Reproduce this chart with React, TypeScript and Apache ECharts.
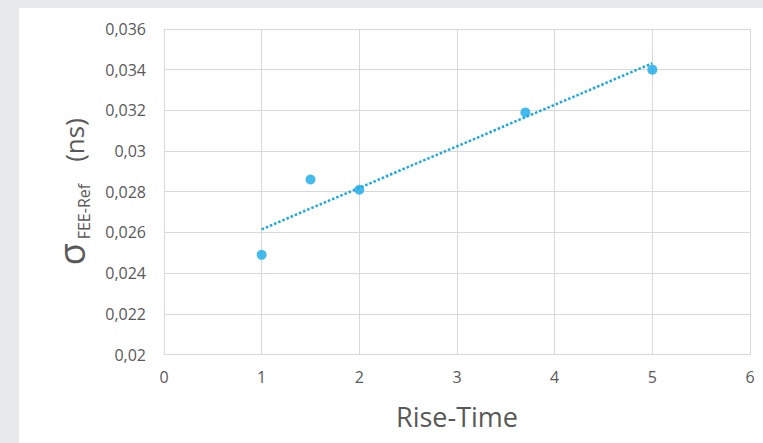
import React, { useEffect, useRef } from "react";
import * as echarts from "echarts";

// Measured sigma of the FEE-Ref timing versus rise time
const riseTimes = [1, 1.5, 2, 3.7, 5];
const sigmaValues = [0.0249, 0.0286, 0.0281, 0.0319, 0.034];

const xTicks = { min: 0, max: 6, interval: 1 };
const yTicks = { min: 0.02, max: 0.036, interval: 0.002 };

const POINT_COLOR = "#17a9e7";
const TEXT_COLOR = "#595959";
const GRID_COLOR = "#d9d9d9";
const FONT = "'Open Sans', 'Noto Sans', sans-serif";

// Least-squares linear fit, drawn across the range of the measurements
function linearFit(xs: number[], ys: number[]) {
  const n = xs.length;
  const mx = xs.reduce((a, b) => a + b, 0) / n;
  const my = ys.reduce((a, b) => a + b, 0) / n;
  let sxy = 0;
  let sxx = 0;
  for (let i = 0; i < n; i++) {
    sxy += (xs[i] - mx) * (ys[i] - my);
    sxx += (xs[i] - mx) * (xs[i] - mx);
  }
  const slope = sxy / sxx;
  const intercept = my - slope * mx;
  return (x: number) => intercept + slope * x;
}

const fit = linearFit(riseTimes, sigmaValues);
const xFirst = Math.min(...riseTimes);
const xLast = Math.max(...riseTimes);
const trendPoints = [
  [xFirst, fit(xFirst)],
  [xLast, fit(xLast)],
];

const decimalComma = (v: number) =>
  String(parseFloat(v.toFixed(4))).replace(".", ",");

export default function App() {
  const ref = useRef<HTMLDivElement>(null);

  useEffect(() => {
    if (!ref.current) return;
    const chart = echarts.init(ref.current, undefined, { renderer: "svg" });
    chart.setOption({
      animation: false,
      backgroundColor: "#ffffff",
      grid: { left: 145, top: 21, right: 13, bottom: 88.5 },
      xAxis: {
        type: "value",
        min: xTicks.min,
        max: xTicks.max,
        interval: xTicks.interval,
        name: "Rise-Time",
        nameLocation: "middle",
        nameGap: 48,
        nameTextStyle: { fontFamily: FONT, fontSize: 27, color: TEXT_COLOR },
        axisLine: { show: true, lineStyle: { color: GRID_COLOR, width: 1 } },
        axisTick: { show: false },
        axisLabel: {
          fontFamily: FONT,
          fontSize: 16,
          color: TEXT_COLOR,
          margin: 14,
        },
        splitLine: { show: true, lineStyle: { color: GRID_COLOR, width: 1 } },
      },
      yAxis: {
        type: "value",
        min: yTicks.min,
        max: yTicks.max,
        interval: yTicks.interval,
        // sigma with a lowered "FEE-Ref" subscript, then the unit
        name: "{s|σ}{sub|FEE-Ref}{n|(ns)}",
        nameLocation: "middle",
        nameRotate: 90,
        nameGap: 61,
        nameTextStyle: {
          fontFamily: FONT,
          color: TEXT_COLOR,
          rich: {
            s: {
              fontFamily: FONT,
              fontSize: 36,
              lineHeight: 50,
              verticalAlign: "top",
              color: TEXT_COLOR,
            },
            sub: {
              fontFamily: FONT,
              fontSize: 16,
              lineHeight: 50,
              verticalAlign: "top",
              color: TEXT_COLOR,
              padding: [23, 0, 0, 4],
            },
            n: {
              fontFamily: FONT,
              fontSize: 26,
              lineHeight: 50,
              verticalAlign: "top",
              color: TEXT_COLOR,
              padding: [8, 0, 0, 22],
            },
          },
        },
        axisLine: { show: true, lineStyle: { color: GRID_COLOR, width: 1 } },
        axisTick: { show: false },
        axisLabel: {
          fontFamily: FONT,
          fontSize: 16,
          color: TEXT_COLOR,
          margin: 18,
          formatter: (v: number) => decimalComma(v),
        },
        splitLine: { show: true, lineStyle: { color: GRID_COLOR, width: 1 } },
      },
      series: [
        {
          name: "Trend",
          type: "line",
          data: trendPoints,
          showSymbol: false,
          symbol: "none",
          lineStyle: {
            color: POINT_COLOR,
            width: 2.5,
            type: [2.5, 2],
            cap: "butt",
          },
          z: 2,
        },
        {
          name: "Sigma",
          type: "scatter",
          data: riseTimes.map((x, i) => [x, sigmaValues[i]]),
          symbol: "circle",
          symbolSize: 10,
          itemStyle: { color: POINT_COLOR },
          z: 3,
        },
      ],
    });
    return () => chart.dispose();
  }, []);

  return (
    <div
      style={{
        position: "fixed",
        left: 0,
        top: 0,
        width: 763,
        height: 443,
        background: "#e8e9eb",
        overflow: "hidden",
      }}
    >
      <div
        ref={ref}
        style={{
          position: "absolute",
          left: 19,
          top: 8,
          width: 744,
          height: 435,
          background: "#ffffff",
        }}
      />
    </div>
  );
}
